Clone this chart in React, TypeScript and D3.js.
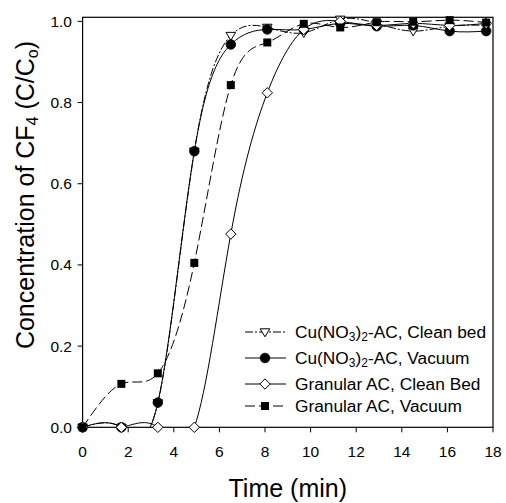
import React from "react";
import * as d3 from "d3";

// Sampling times (min)
const times = [0, 1.7, 3.3, 4.9, 6.5, 8.1, 9.7, 11.3, 12.9, 14.5, 16.1, 17.7];

// C/Co for each adsorbent / regeneration condition
const cuCleanBed = [0, 0, 0.06, 0.68, 0.965, 0.985, 0.972, 1.005, 0.995, 0.976, 0.988, 0.99];
const cuVacuum = [0, 0, 0.061, 0.68, 0.943, 0.98, 0.98, 0.995, 0.988, 0.99, 0.976, 0.976];
const granCleanBed = [0, 0, 0, 0, 0.476, 0.824, 0.98, 1.0, 0.99, 0.995, 0.99, 0.995];
const granVacuum = [0, 0.107, 0.133, 0.405, 0.843, 0.948, 0.994, 0.985, 0.998, 0.999, 1.003, 0.997];

const xTicks = [0, 2, 4, 6, 8, 10, 12, 14, 16, 18];
const yTicks = [0, 0.2, 0.4, 0.6, 0.8, 1.0];

type Marker = "triangleDown" | "circle" | "diamond" | "square";

interface Series {
  key: string;
  values: number[];
  marker: Marker;
  dash: string;
  label: React.ReactNode;
}

const FONT = "'Liberation Sans', Arial, sans-serif";

const series: Series[] = [
  {
    key: "cuClean",
    values: cuCleanBed,
    marker: "triangleDown",
    dash: "8,2,2,2",
    label: (
      <>
        Cu(NO<tspan baselineShift="-25%" fontSize="12">3</tspan>)
        <tspan baselineShift="-25%" fontSize="12">2</tspan>-AC, Clean bed
      </>
    ),
  },
  {
    key: "cuVac",
    values: cuVacuum,
    marker: "circle",
    dash: "none",
    label: (
      <>
        Cu(NO<tspan baselineShift="-25%" fontSize="12">3</tspan>)
        <tspan baselineShift="-25%" fontSize="12">2</tspan>-AC, Vacuum
      </>
    ),
  },
  {
    key: "granClean",
    values: granCleanBed,
    marker: "diamond",
    dash: "none",
    label: <>Granular AC, Clean Bed</>,
  },
  {
    key: "granVac",
    values: granVacuum,
    marker: "square",
    dash: "10,4",
    label: <>Granular AC, Vacuum</>,
  },
];

function MarkerShape({ type, x, y }: { type: Marker; x: number; y: number }) {
  switch (type) {
    case "circle":
      return <circle cx={x} cy={y} r={4.8} fill="#000" stroke="#000" strokeWidth={0.8} />;
    case "square":
      return <rect x={x - 4} y={y - 4} width={8} height={8} fill="#000" />;
    case "diamond":
      return (
        <path
          d={`M${x},${y - 5.2}L${x + 5.2},${y}L${x},${y + 5.2}L${x - 5.2},${y}Z`}
          fill="#fff"
          stroke="#000"
          strokeWidth={1}
        />
      );
    case "triangleDown":
      return (
        <path
          d={`M${x - 4.8},${y - 3.2}L${x + 4.8},${y - 3.2}L${x},${y + 4.8}Z`}
          fill="#fff"
          stroke="#000"
          strokeWidth={1}
        />
      );
  }
}

export default function App() {
  const width = 506;
  const height = 503;
  const left = 82.6;
  const right = 493;
  const top = 17.3;
  const bottom = 427.3;

  const x = d3.scaleLinear().domain([0, 18]).range([left, right]);
  const y = d3.scaleLinear().domain([0, 1.01]).range([bottom, top]);

  const line = d3
    .line<[number, number]>()
    .x((d) => x(d[0]))
    .y((d) => y(d[1]))
    .curve(d3.curveNatural);

  const legendRows = [332, 358, 384, 406];

  return (
    <svg
      width={width}
      height={height}
      style={{ position: "absolute", left: 0, top: 0, background: "#fff" }}
      fontFamily={FONT}
    >
      <defs>
        <clipPath id="plotArea">
          <rect x={left} y={top} width={right - left} height={bottom - top} />
        </clipPath>
      </defs>
      <rect width={width} height={height} fill="#fff" />

      {/* curves */}
      <g clipPath="url(#plotArea)">
        {series.map((s) => (
          <path
            key={s.key}
            d={line(times.map((t, i) => [t, s.values[i]] as [number, number])) || ""}
            fill="none"
            stroke="#000"
            strokeWidth={1}
            strokeDasharray={s.dash}
          />
        ))}
      </g>

      {/* frame */}
      <rect
        x={left}
        y={top}
        width={right - left}
        height={bottom - top}
        fill="none"
        stroke="#000"
        strokeWidth={1.2}
      />

      {/* markers */}
      {series.map((s) => (
        <g key={s.key + "-m"}>
          {times.map((t, i) => (
            <MarkerShape key={i} type={s.marker} x={x(t)} y={y(s.values[i])} />
          ))}
        </g>
      ))}

      {/* x axis */}
      {xTicks.map((t) => (
        <g key={"x" + t}>
          <line x1={x(t)} x2={x(t)} y1={bottom} y2={bottom + 5} stroke="#000" strokeWidth={1} />
          <text x={x(t)} y={457} textAnchor="middle" fontSize={15.5}>
            {t}
          </text>
        </g>
      ))}
      <text x={(left + right) / 2} y={497} textAnchor="middle" fontSize={25}>
        Time (min)
      </text>

      {/* y axis */}
      {yTicks.map((v) => (
        <g key={"y" + v}>
          <line x1={left - 5} x2={left} y1={y(v)} y2={y(v)} stroke="#000" strokeWidth={1} />
          <text x={72} y={y(v) + 5.5} textAnchor="end" fontSize={15.5}>
            {v.toFixed(1)}
          </text>
        </g>
      ))}
      <text transform="translate(34,195) rotate(-90)" textAnchor="middle" fontSize={25}>
        Concentration of CF<tspan baselineShift="-25%" fontSize="16">4</tspan> (C/C
        <tspan baselineShift="-25%" fontSize="16">o</tspan>)
      </text>

      {/* legend */}
      {series.map((s, i) => {
        const cy = legendRows[i];
        return (
          <g key={s.key + "-leg"}>
            <line
              x1={245}
              x2={286}
              y1={cy}
              y2={cy}
              stroke="#000"
              strokeWidth={1}
              strokeDasharray={s.dash}
            />
            <MarkerShape type={s.marker} x={265} y={cy} />
            <text x={295} y={cy + 6} fontSize={17.3}>
              {s.label}
            </text>
          </g>
        );
      })}
    </svg>
  );
}
